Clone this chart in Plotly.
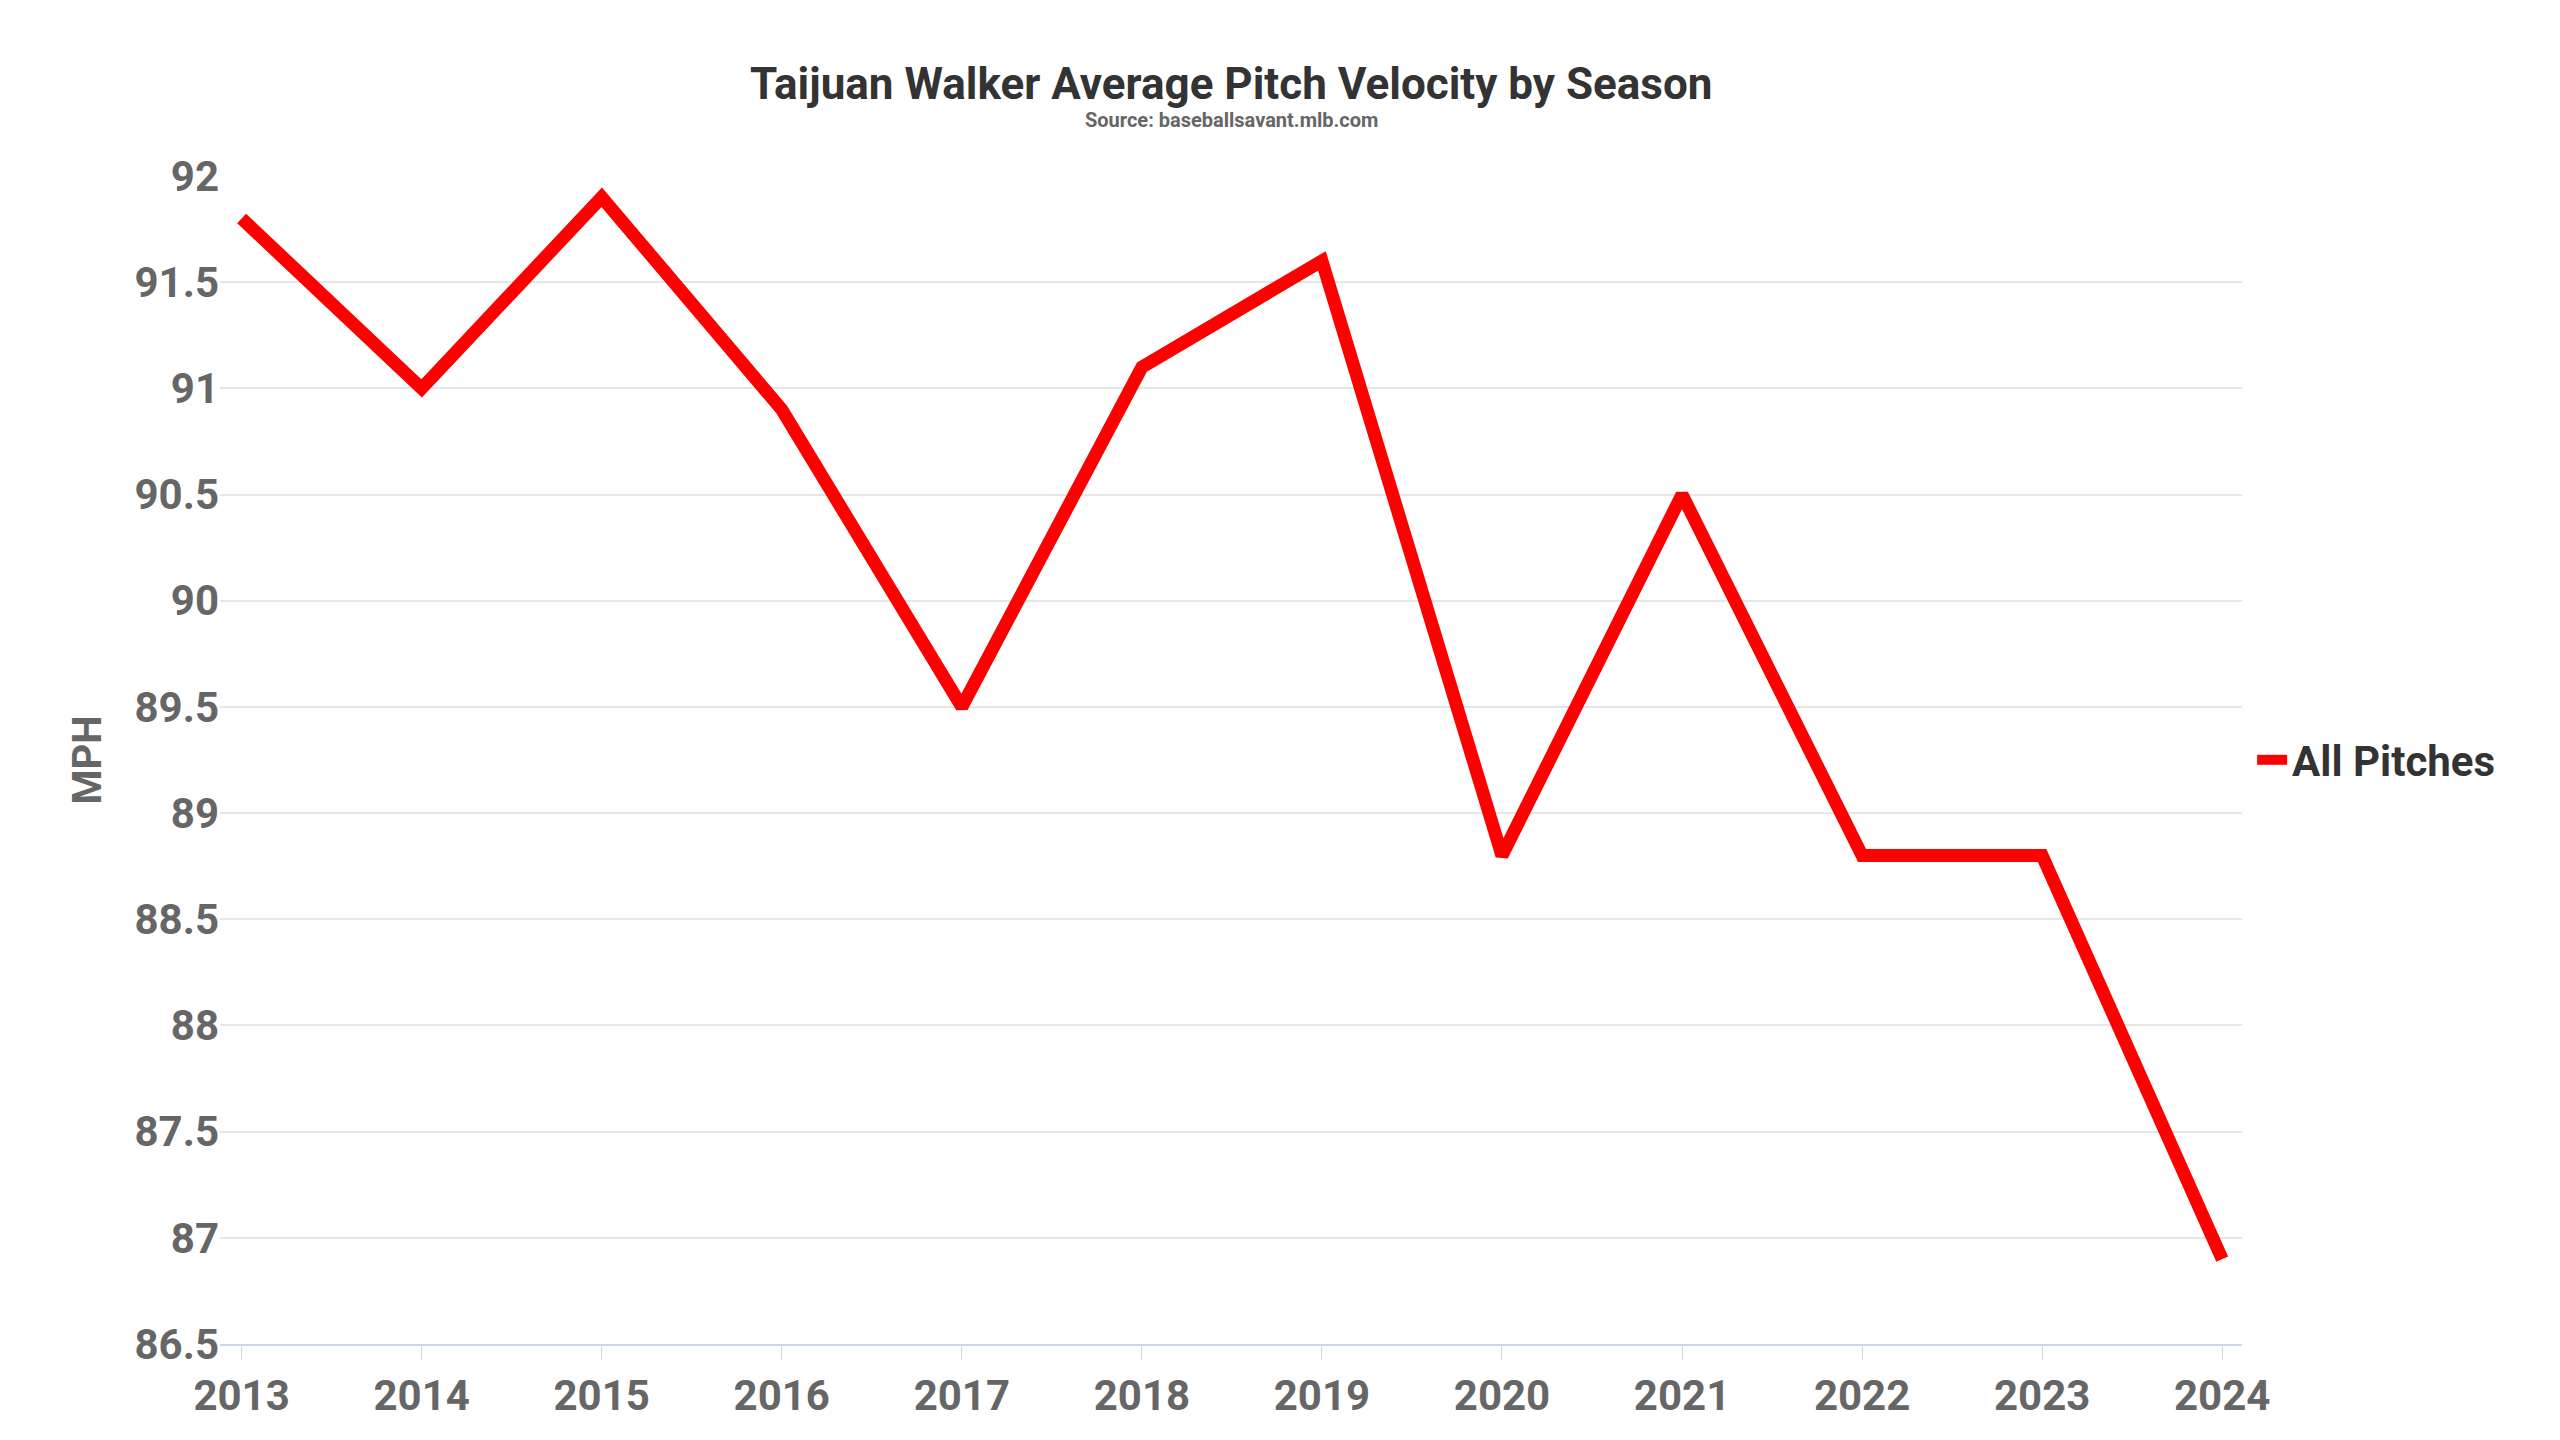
import plotly.graph_objects as go

seasons = [2013, 2014, 2015, 2016, 2017, 2018, 2019, 2020, 2021, 2022, 2023, 2024]
velocity = [91.8, 91.0, 91.9, 90.9, 89.5, 91.1, 91.6, 88.8, 90.5, 88.8, 88.8, 86.9]
yticks = [86.5, 87, 87.5, 88, 88.5, 89, 89.5, 90, 90.5, 91, 91.5, 92]

fig = go.Figure(go.Scatter(x=seasons, y=velocity, mode="lines", name="All Pitches",
                           showlegend=True, line=dict(color="#ff0000", width=13)))
fig.update_layout(
    width=2560, height=1440, plot_bgcolor="white", paper_bgcolor="white",
    font=dict(family="Roboto", color="#666666"),
    margin=dict(l=212, r=326, t=168, b=104),
    showlegend=True,
    legend=dict(x=1.005, y=0.5, yanchor="middle", font=dict(size=42, color="#333333", weight="bold")),
    xaxis=dict(range=[2012.88, 2024.11], tickvals=seasons, showgrid=False,
               showline=True, linecolor="#ccd6eb", linewidth=2, ticks="outside",
               ticklen=14, tickcolor="#ccd6eb",
               tickfont=dict(size=42, weight="bold", color="#666666")),
    yaxis=dict(range=[86.5, 92], tickvals=yticks, ticktext=[f"{v:g}" for v in yticks],
               gridcolor="#e6e6e6", gridwidth=2, zeroline=False,
               title=dict(text="MPH", font=dict(size=40, weight="bold", color="#666666"), standoff=20),
               tickfont=dict(size=42, weight="bold", color="#666666")),
    annotations=[
        dict(text="<b>Taijuan Walker Average Pitch Velocity by Season</b>", xref="paper", yref="paper",
             x=0.5, y=1.0, yshift=120, showarrow=False, font=dict(size=44, color="#333333")),
        dict(text="<b>Source: baseballsavant.mlb.com</b>", xref="paper", yref="paper",
             x=0.5, y=1.0, yshift=70, showarrow=False, font=dict(size=20, color="#666666")),
    ],
)
fig.write_html("out.html")
